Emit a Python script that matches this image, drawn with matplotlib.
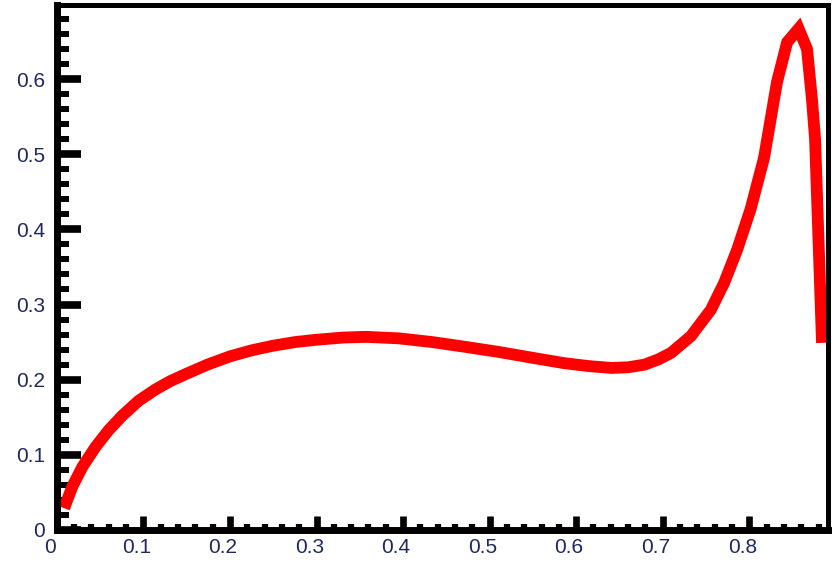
import matplotlib
matplotlib.use('Agg')
import matplotlib.pyplot as plt
import matplotlib.transforms as mtransforms
from matplotlib.ticker import MultipleLocator

# curve
x = [0.0084, 0.018, 0.0295, 0.045, 0.060, 0.0755, 0.0946, 0.114, 0.131,
     0.15, 0.174, 0.2, 0.225, 0.249, 0.275, 0.299, 0.33, 0.357, 0.395,
     0.434, 0.47, 0.51, 0.55, 0.586, 0.615, 0.641, 0.66, 0.679, 0.695,
     0.7096, 0.7326, 0.7556, 0.771, 0.786, 0.8015, 0.817, 0.832, 0.8437,
     0.857, 0.8667, 0.8724, 0.876, 0.884]
y = [0.029, 0.058, 0.084, 0.111, 0.133, 0.152, 0.172, 0.187, 0.198,
     0.208, 0.220, 0.231, 0.239, 0.245, 0.250, 0.253, 0.256, 0.257, 0.255,
     0.250, 0.244, 0.237, 0.229, 0.222, 0.218, 0.2156, 0.2165, 0.22, 0.227,
     0.2356, 0.258, 0.293, 0.329, 0.373, 0.427, 0.495, 0.596, 0.649,
     0.667, 0.64, 0.573, 0.52, 0.249]

plt.rcParams['font.family'] = ['Liberation Sans', 'DejaVu Sans']

fig = plt.figure(figsize=(8.36, 5.62), dpi=100)
ax = fig.add_axes([0.068, 0.057, 0.9225, 0.934])

ax.plot(x, y, color='#ff0000', lw=8.5, solid_joinstyle='miter', solid_capstyle='butt')

ax.set_xlim(0, 0.891)
ax.set_ylim(0, 0.6985)

ax.xaxis.set_major_locator(MultipleLocator(0.1))
ax.xaxis.set_minor_locator(MultipleLocator(0.02))
ax.yaxis.set_major_locator(MultipleLocator(0.1))
ax.yaxis.set_minor_locator(MultipleLocator(0.02))
fmt = plt.FuncFormatter(lambda v, p: '0' if abs(v) < 1e-9 else '%g' % round(v, 2))
ax.xaxis.set_major_formatter(fmt)
ax.yaxis.set_major_formatter(fmt)

lab = '#202860'
ax.tick_params(axis='y', which='major', direction='in', length=17, width=5.5,
               labelsize=15, labelcolor=lab, pad=8.5, right=False)
ax.tick_params(axis='y', which='minor', direction='in', length=8.3, width=4.3, right=False)
ax.tick_params(axis='x', which='major', direction='in', length=10, width=4.8,
               labelsize=15, labelcolor=lab, pad=5.5, top=False)
ax.tick_params(axis='x', which='minor', direction='in', length=4.5, width=4.5, top=False)

# x labels sit a little left of their ticks in the reference
shift = mtransforms.ScaledTranslation(-7 / 100, 0, fig.dpi_scale_trans)
for t in ax.get_xticklabels():
    t.set_transform(t.get_transform() + shift)

ax.spines['left'].set_linewidth(5)
ax.spines['bottom'].set_linewidth(5)
ax.spines['top'].set_linewidth(3.6)
ax.spines['right'].set_linewidth(3.6)

fig.savefig('out.png', dpi=100)
